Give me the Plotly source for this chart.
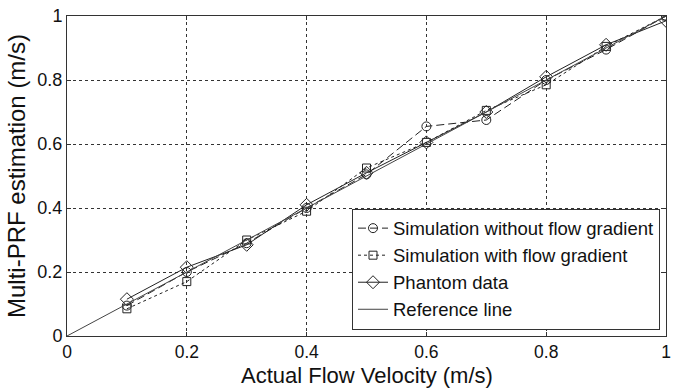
import plotly.graph_objects as go

x_vals = [0.1, 0.2, 0.3, 0.4, 0.5, 0.6, 0.7, 0.8, 0.9, 1.0]
sim_no_grad = [0.095, 0.20, 0.29, 0.40, 0.505, 0.655, 0.675, 0.80, 0.895, 1.0]
sim_grad = [0.085, 0.17, 0.30, 0.39, 0.525, 0.605, 0.705, 0.785, 0.905, 1.0]
phantom = [0.115, 0.215, 0.285, 0.41, 0.51, 0.605, 0.70, 0.81, 0.91, 0.985]
ref_x = [0, 1]
ref_y = [0, 1]

font_family = "Liberation Sans, Arial, sans-serif"
col = "#222222"

fig = go.Figure()
fig.add_trace(go.Scatter(x=x_vals, y=sim_no_grad, mode="lines+markers",
                         name="Simulation without flow gradient",
                         line=dict(color=col, width=1, dash="8px,4px"),
                         marker=dict(symbol="circle-open", size=9, color=col, line=dict(width=1))))
fig.add_trace(go.Scatter(x=x_vals, y=sim_grad, mode="lines+markers",
                         name="Simulation with flow gradient",
                         line=dict(color=col, width=1, dash="dot"),
                         marker=dict(symbol="square-open", size=8, color=col, line=dict(width=1))))
fig.add_trace(go.Scatter(x=x_vals, y=phantom, mode="lines+markers",
                         name="Phantom data",
                         line=dict(color=col, width=1),
                         marker=dict(symbol="diamond-open", size=10, color=col, line=dict(width=1))))
fig.add_trace(go.Scatter(x=ref_x, y=ref_y, mode="lines",
                         name="Reference line",
                         line=dict(color="#444444", width=1)))

axis_common = dict(
    range=[0, 1], dtick=0.2, showgrid=True, gridcolor="#333333", griddash="dot", gridwidth=1,
    showline=True, linecolor="#333333", linewidth=1, mirror="ticks",
    ticks="inside", ticklen=4, tickcolor="#333333", zeroline=False,
    tickfont=dict(family=font_family, size=18, color="#111111"),
    tickformat="~g",
)

fig.update_layout(
    width=677, height=389,
    margin=dict(l=67, r=6, t=14, b=53),
    paper_bgcolor="white", plot_bgcolor="white",
    font=dict(family=font_family, color="#111111"),
    xaxis=dict(**axis_common, tickfont_size=17.5),
    yaxis=dict(**axis_common,
               title=dict(text="Multi-PRF estimation (m/s)",
                          font=dict(family=font_family, size=24), standoff=4)),
    legend=dict(x=0.99, y=0.02, xanchor="right", yanchor="bottom",
                bordercolor="#333333", borderwidth=1, bgcolor="white",
                font=dict(family=font_family, size=18.5, color="#111111"),
                tracegroupgap=0),
    showlegend=True,
    annotations=[dict(text="Actual Flow Velocity (m/s)", xref="paper", yref="paper",
                      x=0.5, y=0, xanchor="center", yanchor="bottom", yshift=-53,
                      showarrow=False, borderpad=0,
                      font=dict(family=font_family, size=22, color="#111111"))],
)

fig.write_html("out.html")
